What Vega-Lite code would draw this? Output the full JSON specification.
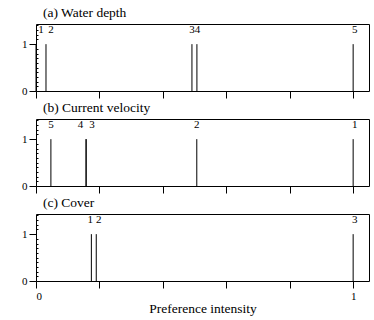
{
  "$schema": "https://vega.github.io/schema/vega-lite/v6.json",
  "padding": {"left": 21, "top": 5, "right": 2, "bottom": 2},
  "background": "white",
  "config": {
    "font": "Liberation Serif",
    "view": {"stroke": "black", "strokeWidth": 1},
    "title": {"font": "Liberation Serif", "fontSize": 13.5, "fontWeight": "normal", "color": "black", "anchor": "start", "frame": "group", "baseline": "alphabetic", "offset": 5, "dx": 7},
    "text": {"font": "Liberation Serif"},
    "axis": {"labelFont": "Liberation Serif", "labelFontSize": 11, "labelColor": "black", "tickColor": "black", "domain": false, "grid": false, "titleFont": "Liberation Serif", "titleFontWeight": "normal", "titleColor": "black", "titleFontSize": 13.5}
  },
  "datasets": {
    "prefs": [
      {"panel": "a", "id": "1", "value": 0.0, "lx": 0.016, "h": 1},
      {"panel": "a", "id": "2", "value": 0.0315, "lx": 0.047, "h": 1},
      {"panel": "a", "id": "3", "value": 0.4917, "lx": 0.4917, "h": 1},
      {"panel": "a", "id": "4", "value": 0.5074, "lx": 0.5095, "h": 1},
      {"panel": "a", "id": "5", "value": 1.0, "lx": 1.005, "h": 1},
      {"panel": "b", "id": "5", "value": 0.047, "lx": 0.047, "h": 1},
      {"panel": "b", "id": "4", "value": 0.158, "lx": 0.14, "h": 1},
      {"panel": "b", "id": "3", "value": 0.158, "lx": 0.1765, "h": 1},
      {"panel": "b", "id": "2", "value": 0.507, "lx": 0.507, "h": 1},
      {"panel": "b", "id": "1", "value": 1.0, "lx": 1.005, "h": 1},
      {"panel": "c", "id": "1", "value": 0.1746, "lx": 0.171, "h": 1},
      {"panel": "c", "id": "2", "value": 0.19, "lx": 0.198, "h": 1},
      {"panel": "c", "id": "3", "value": 1.0, "lx": 1.005, "h": 1}
    ]
  },
  "vconcat": [
    {
      "title": {"text": "(a) Water depth", "font": "Liberation Serif", "fontSize": 13.5},
      "width": 333, "height": 67,
      "data": {"name": "prefs"},
      "transform": [{"filter": "datum.panel == 'a'"}],
      "resolve": {"axis": {"y": "independent"}},
      "layer": [
        {
          "mark": {"type": "rule", "color": "black", "strokeWidth": 1},
          "encoding": {
            "x": {"field": "value", "type": "quantitative", "scale": {"domain": [0, 1.05], "nice": false}, "axis": {"values": [0, 0.1, 0.2, 0.3, 0.4, 0.5, 0.6, 0.7, 0.8, 0.9, 1], "labels": false, "tickSize": 7, "title": null}},
            "y": {"field": "h", "type": "quantitative", "scale": {"domain": [0, 1.43], "nice": false}, "axis": {"values": [0, 1], "tickSize": 7, "labelPadding": 2, "labelFont": "Liberation Serif", "labelFontSize": 11, "title": null}},
            "y2": {"datum": 0}
          }
        },
        {
          "mark": {"type": "text", "baseline": "alphabetic", "align": "center", "dy": -11, "fontSize": 11, "font": "Liberation Serif", "color": "black"},
          "encoding": {
            "x": {"field": "lx", "type": "quantitative"},
            "y": {"field": "h", "type": "quantitative", "axis": {"orient": "left", "values": [0.1, 0.2, 0.3, 0.4, 0.5, 0.6, 0.7, 0.8, 0.9, 1.1, 1.2, 1.3, 1.4], "labels": false, "tickSize": -2, "title": null}},
            "text": {"field": "id"}
          }
        }
      ]
    },
    {
      "title": {"text": "(b) Current velocity", "font": "Liberation Serif", "fontSize": 13.5},
      "width": 333, "height": 67,
      "data": {"name": "prefs"},
      "transform": [{"filter": "datum.panel == 'b'"}],
      "resolve": {"axis": {"y": "independent"}},
      "layer": [
        {
          "mark": {"type": "rule", "color": "black", "strokeWidth": 1},
          "encoding": {
            "x": {"field": "value", "type": "quantitative", "scale": {"domain": [0, 1.05], "nice": false}, "axis": {"values": [0, 0.1, 0.2, 0.3, 0.4, 0.5, 0.6, 0.7, 0.8, 0.9, 1], "labels": false, "tickSize": 7, "title": null}},
            "y": {"field": "h", "type": "quantitative", "scale": {"domain": [0, 1.43], "nice": false}, "axis": {"values": [0, 1], "tickSize": 7, "labelPadding": 2, "labelFont": "Liberation Serif", "labelFontSize": 11, "title": null}},
            "y2": {"datum": 0}
          }
        },
        {
          "mark": {"type": "text", "baseline": "alphabetic", "align": "center", "dy": -11, "fontSize": 11, "font": "Liberation Serif", "color": "black"},
          "encoding": {
            "x": {"field": "lx", "type": "quantitative"},
            "y": {"field": "h", "type": "quantitative", "axis": {"orient": "left", "values": [0.1, 0.2, 0.3, 0.4, 0.5, 0.6, 0.7, 0.8, 0.9, 1.1, 1.2, 1.3, 1.4], "labels": false, "tickSize": -2, "title": null}},
            "text": {"field": "id"}
          }
        }
      ]
    },
    {
      "title": {"text": "(c) Cover", "font": "Liberation Serif", "fontSize": 13.5},
      "width": 333, "height": 67,
      "data": {"name": "prefs"},
      "transform": [{"filter": "datum.panel == 'c'"}],
      "resolve": {"axis": {"y": "independent"}},
      "layer": [
        {
          "mark": {"type": "rule", "color": "black", "strokeWidth": 1},
          "encoding": {
            "x": {"field": "value", "type": "quantitative", "scale": {"domain": [0, 1.05], "nice": false}, "axis": {"values": [0, 0.1, 0.2, 0.3, 0.4, 0.5, 0.6, 0.7, 0.8, 0.9, 1], "labelExpr": "datum.value == 0 ? '0' : datum.value == 0.5 ? '0.5' : datum.value == 1 ? '1' : ''", "tickSize": 7, "labelPadding": 2, "labelFont": "Liberation Serif", "labelFontSize": 11, "title": "Preference intensity", "titlePadding": 0}},
            "y": {"field": "h", "type": "quantitative", "scale": {"domain": [0, 1.43], "nice": false}, "axis": {"values": [0, 1], "tickSize": 7, "labelPadding": 2, "labelFont": "Liberation Serif", "labelFontSize": 11, "title": null}},
            "y2": {"datum": 0}
          }
        },
        {
          "mark": {"type": "text", "baseline": "alphabetic", "align": "center", "dy": -11, "fontSize": 11, "font": "Liberation Serif", "color": "black"},
          "encoding": {
            "x": {"field": "lx", "type": "quantitative"},
            "y": {"field": "h", "type": "quantitative", "axis": {"orient": "left", "values": [0.1, 0.2, 0.3, 0.4, 0.5, 0.6, 0.7, 0.8, 0.9, 1.1, 1.2, 1.3, 1.4], "labels": false, "tickSize": -2, "title": null}},
            "text": {"field": "id"}
          }
        }
      ]
    }
  ],
  "bounds": "flush",
  "spacing": 28
}
